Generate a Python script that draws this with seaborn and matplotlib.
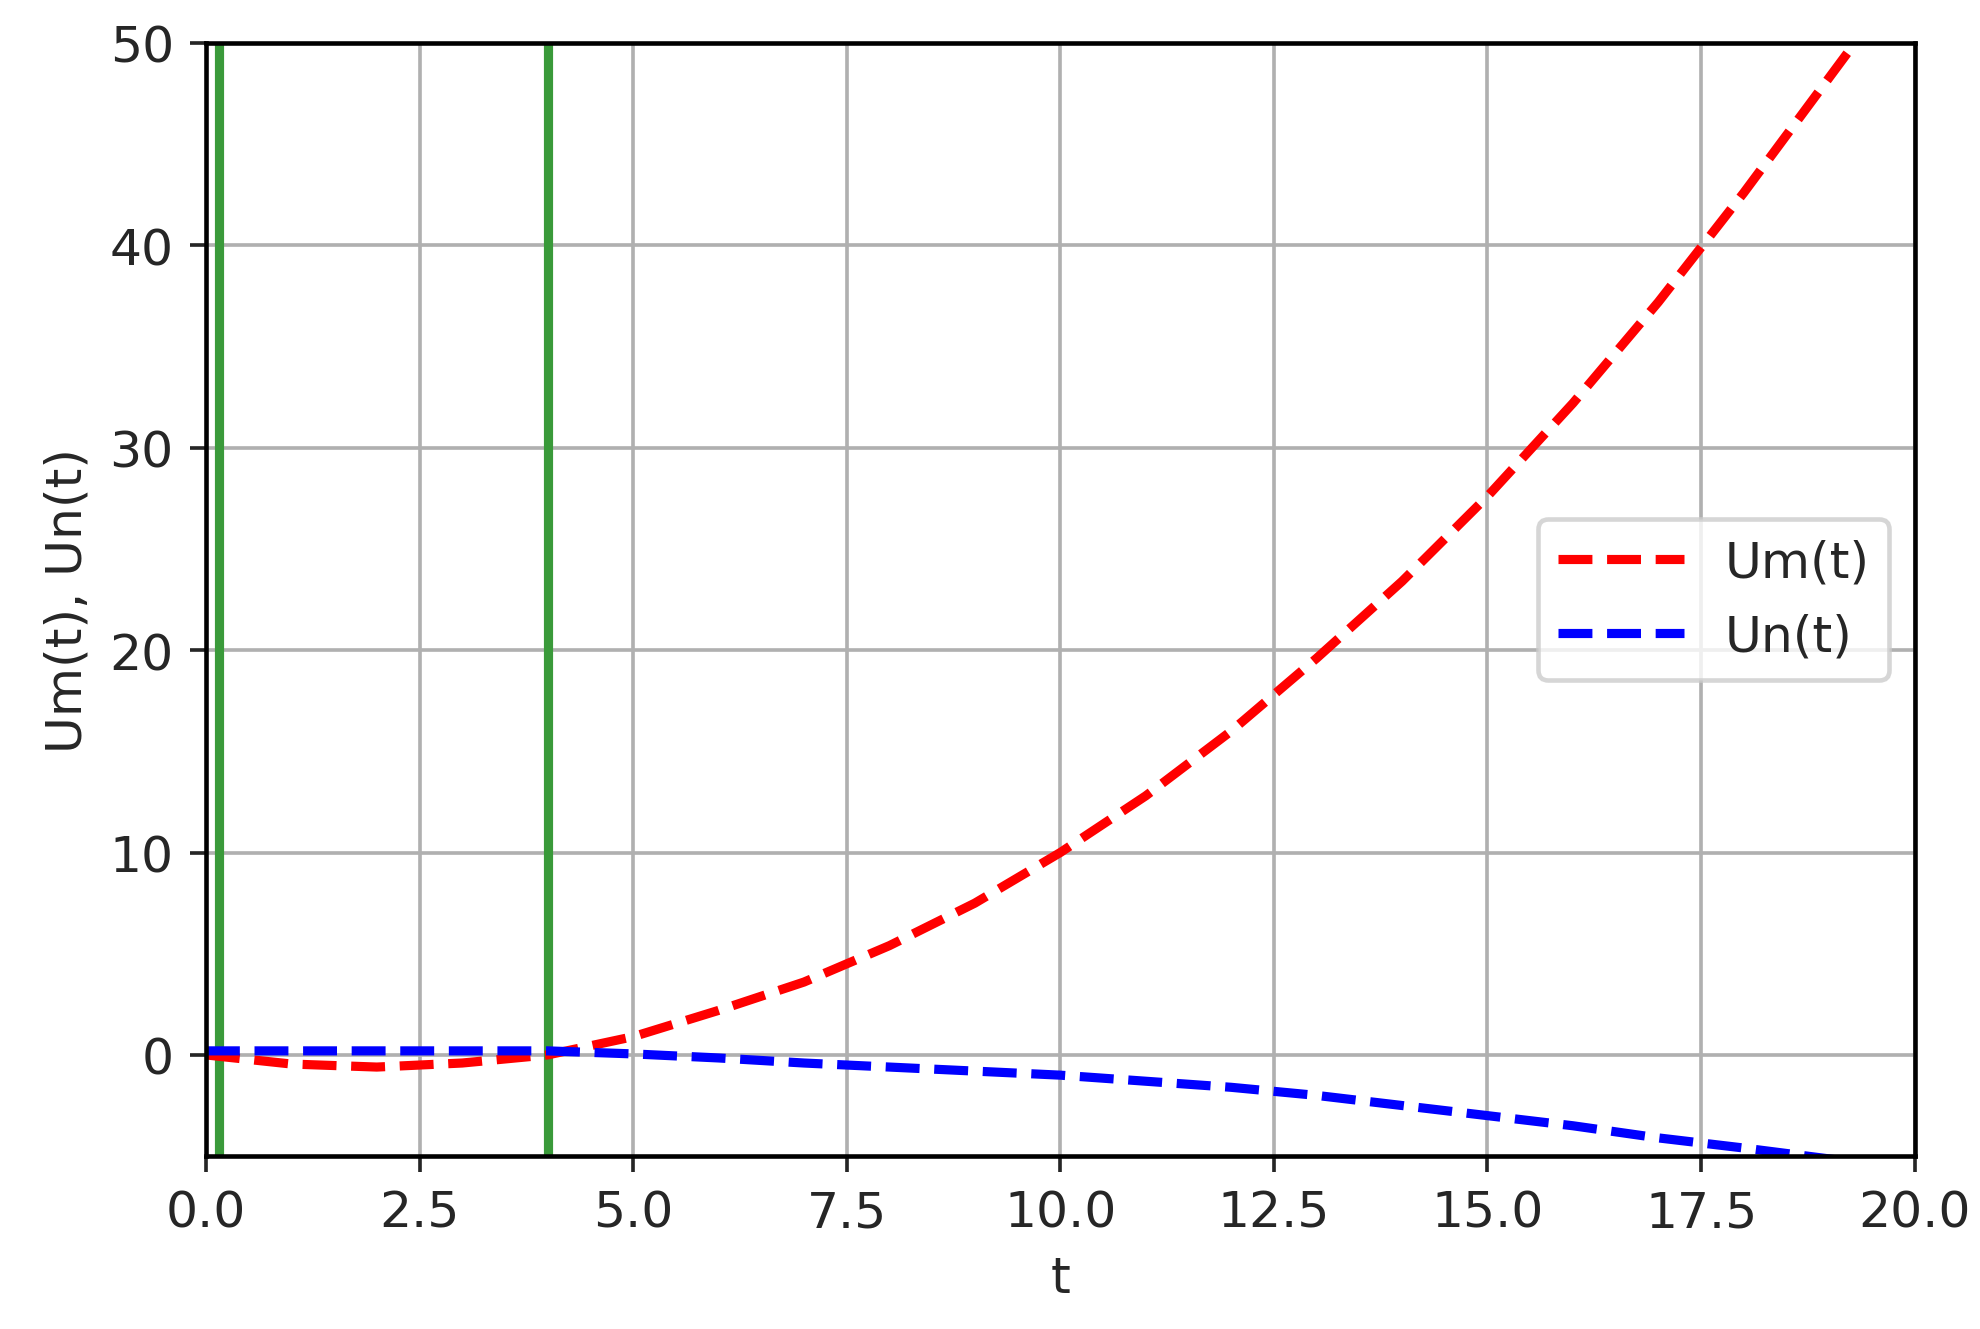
import numpy as np
import matplotlib
matplotlib.use("Agg")
import matplotlib.pyplot as plt
import seaborn as sns

# values
t = [0.0, 1.0, 2.0, 3.0, 4.0, 5.0, 6.0, 7.0, 8.0, 9.0, 10.0, 11.0, 12.0, 13.0, 14.0, 15.0, 16.0, 17.0, 18.0, 19.3]
um = [0.0, -0.45, -0.6, -0.4, 0.0, 0.9, 2.2, 3.6, 5.4, 7.5, 10.0, 12.8, 16.0, 19.6, 23.4, 27.6, 32.2, 37.2, 42.6, 50.0]
un = [0.2, 0.2, 0.2, 0.2, 0.2, 0.05, -0.15, -0.4, -0.6, -0.8, -1.0, -1.3, -1.6, -2.0, -2.5, -3.0, -3.5, -4.1, -4.6, -5.3]
green_t = [0.15, 4.0]

sns.set_style("white")
plt.rcParams['font.family'] = ['DejaVu Sans']

fig, ax = plt.subplots(figsize=(6, 4.03), dpi=330)
fig.subplots_adjust(left=0.104, right=0.967, top=0.967, bottom=0.13)

for g in green_t:
    ax.axvline(g, color='#3a9a3a', lw=2)
sns.lineplot(x=t, y=um, ax=ax, color='red', lw=2, linestyle='--', label='Um(t)')
sns.lineplot(x=t, y=un, ax=ax, color='blue', lw=2, linestyle='--', label='Un(t)')

ax.set_xlim(0, 20)
ax.set_ylim(-5, 50)
ax.set_xticks(np.arange(0, 20.1, 2.5))
ax.set_yticks([0, 10, 20, 30, 40, 50])
ax.grid(True, color='#b0b0b0', lw=0.8)
for s in ax.spines.values():
    s.set_color('black')
    s.set_linewidth(1)
ax.tick_params(axis='both', direction='out', length=3.5, width=0.8, bottom=True, left=True, labelsize=11)
ax.set_xlabel('t', fontsize=11)
ax.set_ylabel('Um(t), Un(t)', fontsize=11)
ax.legend(loc='center right', fontsize=11, handlelength=2.5)

fig.savefig('out.png')
